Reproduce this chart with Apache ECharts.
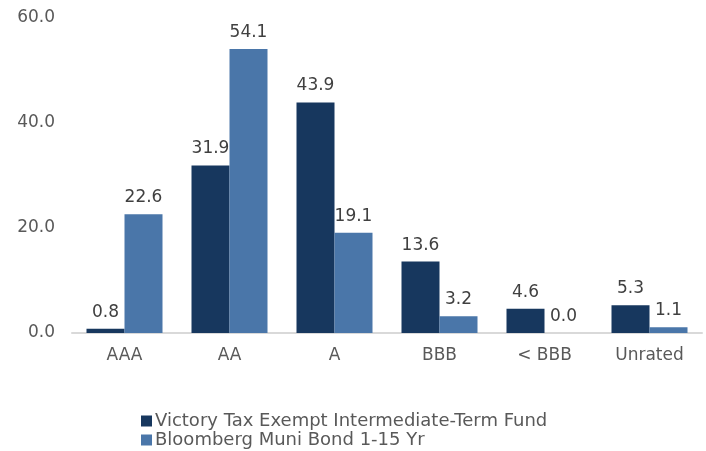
<!DOCTYPE html>
<html>
<head>
<meta charset="utf-8">
<script src="https://cdn.jsdelivr.net/npm/echarts@6/dist/echarts.min.js"></script>
<style>
html,body{margin:0;padding:0;background:#fff;}
#main{width:706px;height:451px;}
</style>
</head>
<body>
<div id="main"></div>
<script>
var categories = ['AAA', 'AA', 'A', 'BBB', '< BBB', 'Unrated'];
var fundValues = [0.8, 31.9, 43.9, 13.6, 4.6, 5.3];
var benchValues = [22.6, 54.1, 19.1, 3.2, 0.0, 1.1];
var seriesNames = ['Victory Tax Exempt Intermediate-Term Fund', 'Bloomberg Muni Bond 1-15 Yr'];
var colors = ['#17375e', '#4a76a9'];

var font = 'DejaVu Sans, sans-serif';
var myChar = echarts.init(document.getElementById('main'));
var labelOpt = {
	show: true,
	position: 'top',
	distance: 8,
	color: '#404040',
	fontSize: 17,
	fontFamily: font,
	formatter: function (p) { return p.value.toFixed(1); }
};
var myOption = {
	animation: false,
	color: colors,
	grid: {
		left: 72,
		right: 4,
		top: 18,
		bottom: 118
	},
	legend: {
		orient: 'vertical',
		left: 136,
		top: 407,
		height: 60,
		itemWidth: 11,
		itemHeight: 11,
		itemGap: 1,
		icon: 'rect',
		textStyle: {
			color: '#595959',
			fontSize: 18,
			lineHeight: 18,
			fontFamily: font,
			padding: [0, 0, 0, -2]
		},
		data: seriesNames
	},
	xAxis: {
		type: 'category',
		data: categories,
		axisTick: { show: false },
		axisLine: { lineStyle: { color: '#d9d9d9', width: 2 } },
		axisLabel: { color: '#595959', fontSize: 17, fontFamily: font, margin: 14 }
	},
	yAxis: {
		type: 'value',
		min: 0,
		max: 60,
		interval: 20,
		splitLine: { show: false },
		axisLabel: {
			color: '#595959',
			fontSize: 17,
			fontFamily: font,
			margin: 17,
			formatter: function (v) { return v.toFixed(1); }
		}
	},
	series: [
		{
			name: seriesNames[0],
			type: 'bar',
			data: fundValues,
			barWidth: 38,
			barGap: '0%',
			label: labelOpt
		},
		{
			name: seriesNames[1],
			type: 'bar',
			data: benchValues,
			barWidth: 38,
			barGap: '0%',
			label: labelOpt
		}
	]
};
myChar.setOption(myOption);
</script>
</body>
</html>
